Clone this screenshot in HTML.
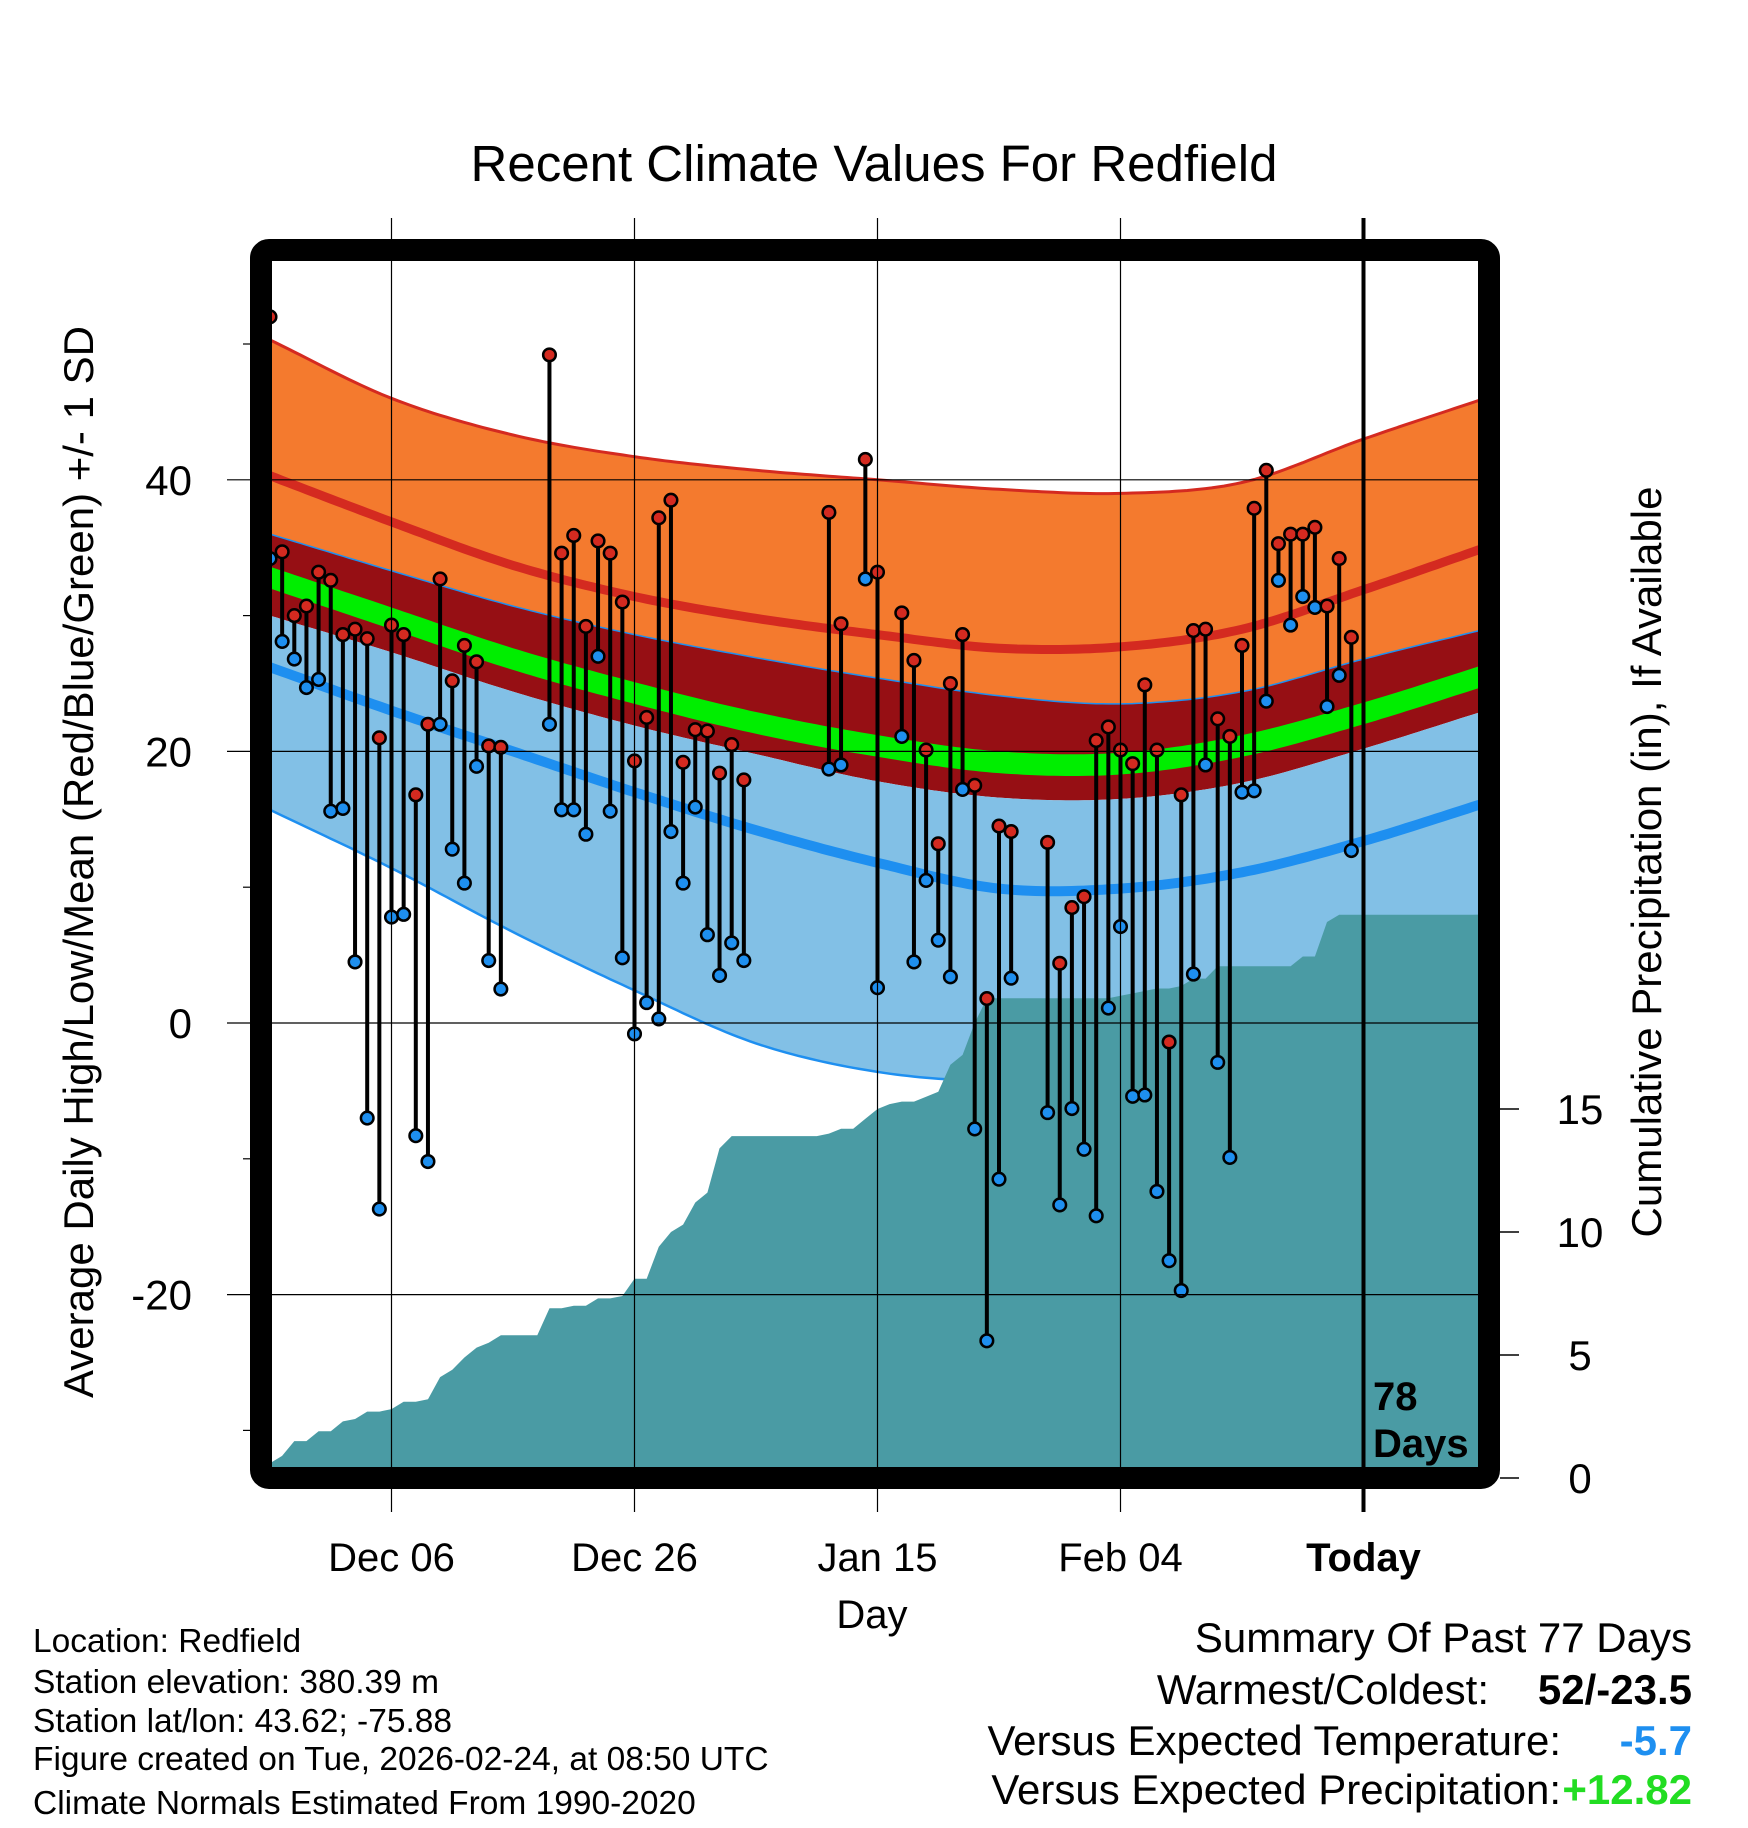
<!DOCTYPE html>
<html><head><meta charset="utf-8"><style>
html,body{margin:0;padding:0;background:#fff}
svg{display:block;font-family:"Liberation Sans",Arial,sans-serif}
</style></head><body>
<svg id="chart" width="1748" height="1828" viewBox="0 0 1748 1828" xmlns="http://www.w3.org/2000/svg">
<defs><clipPath id="plotclip"><rect x="272" y="260" width="1206" height="1208"/></clipPath></defs>
<text x="874" y="181" font-size="51" text-anchor="middle">Recent Climate Values For Redfield</text>
<g id="plot" clip-path="url(#plotclip)"></g>
<g id="axes"></g>
<text transform="translate(93,862) rotate(-90)" font-size="42" text-anchor="middle">Average Daily High/Low/Mean (Red/Blue/Green) +/- 1 SD</text>
<text transform="translate(1661,862) rotate(-90)" font-size="42" text-anchor="middle">Cumulative Precipitation (in), If Available</text>
<text x="872" y="1628" font-size="40" text-anchor="middle">Day</text>
<g font-size="33.5">
<text x="33" y="1652">Location: Redfield</text>
<text x="33" y="1693">Station elevation: 380.39 m</text>
<text x="33" y="1732">Station lat/lon: 43.62; -75.88</text>
<text x="33" y="1770">Figure created on Tue, 2026-02-24, at 08:50 UTC</text>
<text x="33" y="1814">Climate Normals Estimated From 1990-2020</text>
</g>
<g font-size="42">
<text x="1692" y="1652" text-anchor="end">Summary Of Past 77 Days</text>
<text x="1489" y="1704" text-anchor="end">Warmest/Coldest:</text>
<text x="1692" y="1704" text-anchor="end" font-weight="bold">52/-23.5</text>
<text x="1561" y="1755" text-anchor="end">Versus Expected Temperature:</text>
<text x="1692" y="1755" text-anchor="end" font-weight="bold" fill="#1e8ff0">-5.7</text>
<text x="1561" y="1804" text-anchor="end">Versus Expected Precipitation:</text>
<text x="1692" y="1804" text-anchor="end" font-weight="bold" fill="#22dd22">+12.82</text>
</g>
</svg>
<script>
// ---- data ----
const highs = [52,34.7,30,30.7,33.2,32.6,28.6,29,28.3,21,29.3,28.6,16.8,22,32.7,25.2,27.8,26.6,20.4,20.3,null,null,null,49.2,34.6,35.9,29.2,35.5,34.6,31,19.3,22.5,37.2,38.5,19.2,21.6,21.5,18.4,20.5,17.9,null,null,null,null,null,null,37.6,29.4,null,41.5,33.2,null,30.2,26.7,20.1,13.2,25,28.6,17.5,1.8,14.5,14.1,null,null,13.3,4.4,8.5,9.3,20.8,21.8,20.1,19.1,24.9,20.1,-1.4,16.8,28.9,29,22.4,21.1,27.8,37.9,40.7,35.3,36,36,36.5,30.7,34.2,28.4];
const lows = [34.2,28.1,26.8,24.7,25.3,15.6,15.8,4.5,-7,-13.7,7.8,8,-8.3,-10.2,22,12.8,10.3,18.9,4.6,2.5,null,null,null,22,15.7,15.7,13.9,27,15.6,4.8,-0.8,1.5,0.3,14.1,10.3,15.9,6.5,3.5,5.9,4.6,null,null,null,null,null,null,18.7,19,null,32.7,2.6,null,21.1,4.5,10.5,6.1,3.4,17.2,-7.8,-23.4,-11.5,3.3,null,null,-6.6,-13.4,-6.3,-9.3,-14.2,1.1,7.1,-5.4,-5.3,-12.4,-17.5,-19.7,3.6,19,-2.9,-9.9,17,17.1,23.7,32.6,29.3,31.4,30.6,23.3,25.6,12.7];
const precip = [0.6,0.9,1.5,1.5,1.9,1.9,2.3,2.4,2.7,2.7,2.8,3.1,3.1,3.2,4.1,4.4,4.9,5.3,5.5,5.8,5.8,5.8,5.8,6.9,6.9,7.0,7.0,7.3,7.3,7.4,8.1,8.1,9.4,10.0,10.3,11.2,11.6,13.4,13.9,13.9,13.9,13.9,13.9,13.9,13.9,13.9,14.0,14.2,14.2,14.6,15.0,15.2,15.3,15.3,15.5,15.7,16.8,17.2,18.5,19.5,19.5,19.5,19.5,19.5,19.5,19.5,19.5,19.5,19.5,19.5,19.6,19.7,19.8,19.9,19.9,20.0,20.3,20.3,20.8,20.8,20.8,20.8,20.8,20.8,20.8,21.2,21.2,22.6,22.9,22.9,22.9,22.9,22.9,22.9,22.9,22.9,22.9,22.9,22.9,22.9];
const normDays = [0,10,20,30,40,50,60,70,80,90,100];
const upperSD = [50.3,46.0,43.3,41.7,40.7,40.0,39.3,39.0,39.8,43.0,46.0];
const meanHigh = [40.3,36.9,33.7,31.4,29.8,28.6,27.6,27.7,29.0,31.9,35.0];
const highMinusSD = [36.0,33.3,30.7,28.6,26.9,25.4,24.1,23.5,24.4,26.8,29.0];
const meanTemp = [32.8,29.8,26.8,24.3,22.1,20.4,19.2,19.1,20.4,22.8,25.6];
const lowPlusSD = [30.0,27.3,24.4,21.9,19.8,17.8,16.6,16.5,17.7,20.2,23.0];
const meanLow = [26.2,23.0,20.0,17.0,14.2,11.8,9.9,9.9,11.1,13.4,16.2];
const lowerSD = [15.7,11.4,6.7,2.4,-1.5,-3.6,-4.3,-4.0,-2.7,-0.2,2.4];
const xTickDays = [10,30,50,70,90];
const xTickLabels = ["Dec 06","Dec 26","Jan 15","Feb 04","Today"];
const yTicks = [40,20,0,-20];
const yMinor = [50,30,10,-10,-30];
const pTicks = [0,5,10,15];

// ---- axis functions ----
const X = d => 270 + d*12.15;
const YT = t => 1023 - t*13.58;
const YP = p => 1478 - p*24.6;
const NS = "http://www.w3.org/2000/svg";
const plot = document.getElementById('plot');
const axes = document.getElementById('axes');
function mk(tag, attrs, parent){ const e=document.createElementNS(NS,tag); for(const k in attrs) e.setAttribute(k,attrs[k]); parent.appendChild(e); return e; }

function interp(arr, d){
  const step = 10; let k = Math.min(Math.floor(d/step), arr.length-2); const t=(d-k*step)/step;
  const p0=k>0?arr[k-1]:2*arr[0]-arr[1], p1=arr[k], p2=arr[k+1], p3=k+2<arr.length?arr[k+2]:2*arr[k+1]-arr[k];
  return 0.5*((2*p1)+(-p0+p2)*t+(2*p0-5*p1+4*p2-p3)*t*t+(-p0+3*p1-3*p2+p3)*t*t*t);
}
function curvePts(arr, off){ const pts=[]; for(let d=-1; d<=100; d+=0.5) pts.push([X(d), YT(interp(arr, Math.max(0,d))+(off||0))]); return pts; }
function band(a, b, oa, ob){ const p1=curvePts(a,oa), p2=curvePts(b,ob).reverse(); return 'M'+p1.concat(p2).map(p=>p[0].toFixed(1)+','+p[1].toFixed(1)).join('L')+'Z'; }
function line(a, off){ return 'M'+curvePts(a,off).map(p=>p[0].toFixed(1)+','+p[1].toFixed(1)).join('L'); }

let e;
e = mk('path',{d:band(upperSD,highMinusSD),fill:'#f47a2e'},plot);
 
e = mk('path',{d:band(highMinusSD,lowPlusSD),fill:'#960f14'},plot);
 
e = mk('path',{d:band(lowPlusSD,lowerSD),fill:'#82c0e6'},plot);
 
e = mk('path',{d:band(meanTemp,meanTemp,0.8,-0.8),fill:'#00ee00'},plot);
 
e = mk('path',{d:line(upperSD),fill:'none',stroke:'#d42a20','stroke-width':3},plot);
 
e = mk('path',{d:line(meanHigh),fill:'none',stroke:'#d42a20','stroke-width':9},plot);
 
e = mk('path',{d:line(highMinusSD),fill:'none',stroke:'#1e8ff0','stroke-width':1.5},plot);
 
e = mk('path',{d:line(lowerSD),fill:'none',stroke:'#1e8ff0','stroke-width':2.5},plot);
 
e = mk('path',{d:line(meanLow),fill:'none',stroke:'#1e8ff0','stroke-width':10},plot);
 

// gridlines
xTickDays.forEach((d,i)=>{ if(i<4){ e=mk('line',{x1:X(d),x2:X(d),y1:218,y2:1512,stroke:'#000','stroke-width':1.2},axes);
    }});
yTicks.forEach(t=>{ e=mk('line',{x1:227,x2:1478,y1:YT(t),y2:YT(t),stroke:'#000','stroke-width':1.2},axes);
    });
yMinor.forEach(t=>{ e=mk('line',{x1:243,x2:255,y1:YT(t),y2:YT(t),stroke:'#000','stroke-width':1.2},axes);
    });

// precip area
let pd='M'+X(0)+','+YP(0);
precip.forEach((p,i)=>{ pd+='L'+X(i).toFixed(1)+','+YP(p).toFixed(1); });
pd+='L'+(X(precip.length-1)+10)+','+YP(precip[precip.length-1])+'L'+(X(precip.length-1)+10)+','+YP(0)+'Z';
e = mk('path',{d:pd,fill:'#4a9ba4'},plot);
 

// stems & dots
highs.forEach((h,i)=>{ const l=lows[i]; if(h==null) return;
  e=mk('line',{x1:X(i),x2:X(i),y1:YT(h),y2:YT(l),stroke:'#000','stroke-width':4},plot);
   
});
highs.forEach((h,i)=>{ const l=lows[i]; if(h==null) return;
  e=mk('circle',{cx:X(i),cy:YT(l),r:6.3,fill:'#1e8fef',stroke:'#000','stroke-width':2.5},plot);
   
  e=mk('circle',{cx:X(i),cy:YT(h),r:6.3,fill:'#d42a20',stroke:'#000','stroke-width':2.5},plot);
   
});

// frame
e = mk('rect',{x:261,y:250,width:1228,height:1228,rx:8,fill:'none',stroke:'#000','stroke-width':22},axes);
 
e = mk('line',{x1:X(90),x2:X(90),y1:218,y2:1512,stroke:'#000','stroke-width':4},axes);
 
e = mk('text',{x:1373,y:1410,'font-size':40,'font-weight':'bold'},axes); e.textContent='78';
 
e = mk('text',{x:1373,y:1457,'font-size':40,'font-weight':'bold'},axes); e.textContent='Days';
 

// tick labels
xTickDays.forEach((d,i)=>{ e=mk('text',{x:X(d),y:1571,'font-size':40,'text-anchor':'middle','font-weight':i==4?'bold':'normal'},axes);
  e.textContent=xTickLabels[i];
    });
yTicks.forEach(t=>{ e=mk('text',{x:192,y:YT(t)+15,'font-size':42,'text-anchor':'end'},axes); e.textContent=String(t);
    });
pTicks.forEach(p=>{ e=mk('line',{x1:1500,x2:1519,y1:YP(p),y2:YP(p),stroke:'#000','stroke-width':1.5},axes);
   
  e=mk('text',{x:1580,y:YP(p)+15,'font-size':42,'text-anchor':'middle'},axes); e.textContent=String(p);
    });
</script>
</body></html>
